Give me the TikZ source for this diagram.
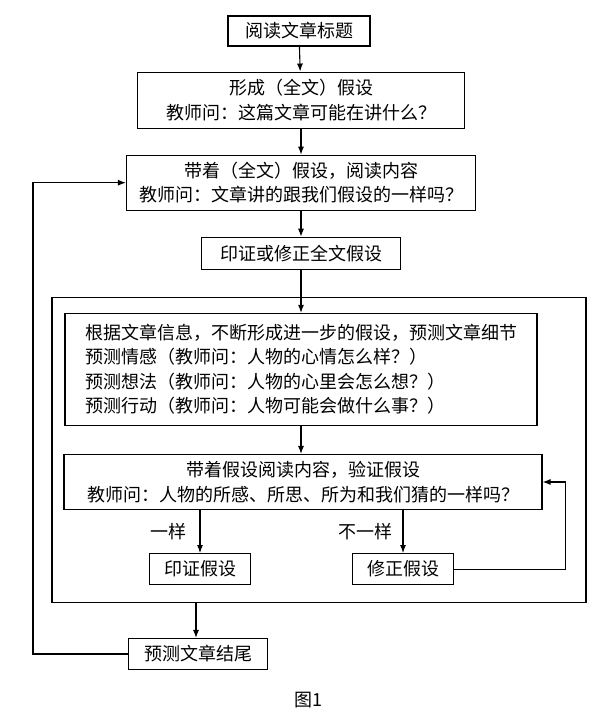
\documentclass[tikz,border=0pt]{standalone}
\usepackage{fontspec}
\newfontfamily\cjk{Noto Sans CJK SC}
\usetikzlibrary{arrows.meta}
\usetikzlibrary{positioning}
\tikzstyle{block} = [rectangle, draw=black, fill=white, line width=1.1pt, text centered, align=center, inner sep=4pt, font=\cjk\fontsize{18}{24.5}\selectfont]
\tikzstyle{frame} = [rectangle, draw=black, line width=1.1pt, minimum width=534pt, minimum height=305pt, inner sep=0pt]
\tikzstyle{label} = [font=\cjk\fontsize{18}{24.5}\selectfont, inner sep=0pt]
\tikzstyle{arrow} = [-{Latex[length=8pt,width=6pt]}, line width=1.1pt]

\begin{document}
\begin{tikzpicture}[x=1pt, y=1pt]
  \useasboundingbox (0,0) rectangle (600,718);

  % We start by placing the blocks
  \node (title) [block, minimum width=142pt, minimum height=30pt] at (299,687) {阅读文章标题};
  \node (hypo) [block, below=25pt of title, xshift=2pt, minimum width=327pt, minimum height=56pt] {形成（全文）假设\\教师问：这篇文章可能在讲什么？};
  \node (read) [block, below=26pt of hypo, minimum width=349pt, minimum height=55pt] {带着（全文）假设，阅读内容\\教师问：文章讲的跟我们假设的一样吗？};
  \node (check) [block, below=26pt of read, minimum width=199pt, minimum height=32pt] {印证或修正全文假设};
  \node (loopbox) [frame, below=27pt of check, xshift=18pt] {};
  \node (detail) [block, below=43pt of check, align=left, minimum width=472pt, minimum height=112pt] {根据文章信息，不断形成进一步的假设，预测文章细节\\预测情感（教师问：人物的心情怎么样？）\\预测想法（教师问：人物的心里会怎么想？）\\预测行动（教师问：人物可能会做什么事？）};
  \node (verify) [block, below=28pt of detail, xshift=2pt, minimum width=478pt, minimum height=55pt] {带着假设阅读内容，验证假设\\教师问：人物的所感、所思、所为和我们猜的一样吗？};
  \node (confirm) [block, below=43pt of verify, xshift=-103pt, minimum width=101pt, minimum height=31pt] {印证假设};
  \node (revise) [block, below=43pt of verify, xshift=100pt, minimum width=101pt, minimum height=31pt] {修正假设};
  \node (ending) [block, below=35pt of loopbox, xshift=-121pt, minimum width=139pt, minimum height=31pt] {预测文章结尾};
  \node (caption) [label] at (308,18) {图1};

  % Draw the connections between blocks
  \draw [arrow] (title) -- (hypo);
  \draw [arrow] (hypo) -- (read);
  \draw [arrow] (read) -- (check);
  \draw [arrow] (check) -- (detail);
  \draw [arrow] (detail) -- (detail.south |- verify.north);
  \draw [arrow] (verify.south -| confirm.north) -- node[label, left=13pt] {一样} (confirm.north);
  \draw [arrow] (verify.south -| revise.north) -- node[label, left=10pt] {不一样} (revise.north);
  \draw [arrow] (revise.east) -- ++(111pt,0) |- (verify.east);
  \draw [arrow] (loopbox.south -| ending.north) ++(-2pt,0) -- ++(0,-35pt);
  \draw [arrow] (ending.west) -- ++(-95pt,0) |- (read.west);

\end{tikzpicture}
\end{document}
